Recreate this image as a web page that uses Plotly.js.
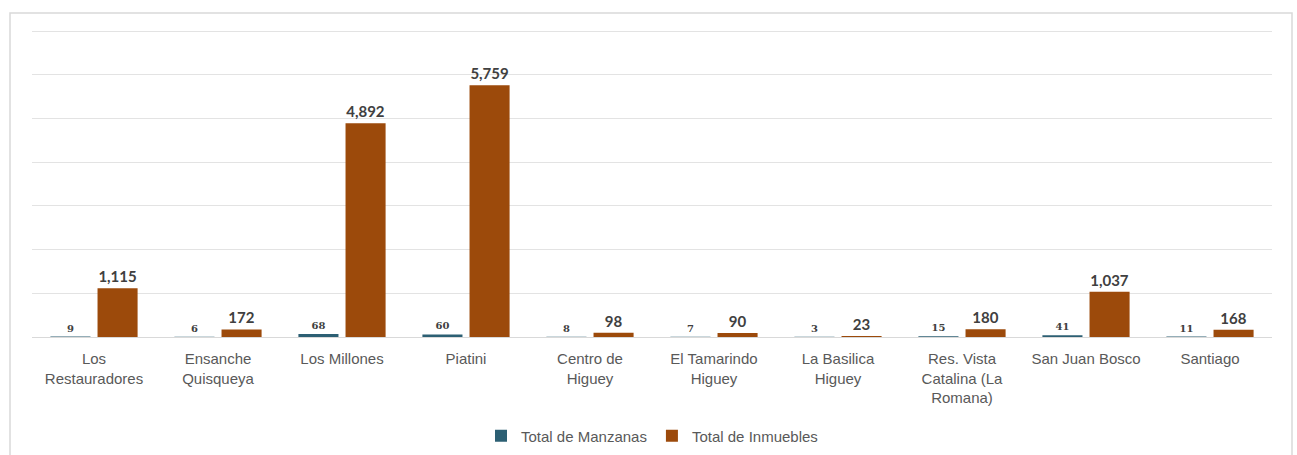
<!DOCTYPE html>
<html>
<head>
<meta charset="utf-8">
<script src="https://cdn.plot.ly/plotly-3.0.1.min.js"></script>
<style>
html,body{margin:0;padding:0;background:#fff;}
#chart{width:1297px;height:455px;}
</style>
</head>
<body>
<div id="chart"></div>
<script>
var categories = ["Los<br>Restauradores", "Ensanche<br>Quisqueya", "Los Millones", "Piatini", "Centro de<br>Higuey", "El Tamarindo<br>Higuey", "La Basilica<br>Higuey", "Res. Vista<br>Catalina (La<br>Romana)", "San Juan Bosco", "Santiago"];
var manzanas = [9, 6, 68, 60, 8, 7, 3, 15, 41, 11];
var inmuebles = [1115, 172, 4892, 5759, 98, 90, 23, 180, 1037, 168];
var yTicks = [0, 1000, 2000, 3000, 4000, 5000, 6000, 7000];

function fmt(v){ return v.toLocaleString('en-US'); }

var traces = [
  {
    type: 'bar', name: 'Total de Manzanas', x: categories, y: manzanas,
    marker: {color: '#2C5F73'},
    text: manzanas.map(fmt), textposition: 'outside', cliponaxis: false,
    textangle: 0, constraintext: 'none',
    textfont: {family: 'DejaVu Serif, serif', size: 10, color: '#404040', weight: 'bold'},
    hoverinfo: 'x+y'
  },
  {
    type: 'bar', name: 'Total de Inmuebles', x: categories, y: inmuebles,
    marker: {color: '#9C4A0B'},
    text: inmuebles.map(fmt), textposition: 'outside', cliponaxis: false,
    textangle: 0, constraintext: 'none',
    textfont: {family: 'Lato, Open Sans, sans-serif', size: 15, color: '#404040', weight: 'bold'},
    hoverinfo: 'x+y'
  }
];

var layout = {
  width: 1297, height: 455,
  margin: {l: 32, r: 25, t: 28, b: 118, pad: 0},
  paper_bgcolor: '#ffffff', plot_bgcolor: '#ffffff',
  barmode: 'group', bargap: 0.24, bargroupgap: 0.15,
  showlegend: true,
  legend: {orientation: 'h', x: 0.5, xanchor: 'center', xref: 'paper',
           y: (455 - 436) / 455, yanchor: 'middle', yref: 'container',
           font: {family: 'Liberation Sans, Arial, sans-serif', size: 15, color: '#595959'},
           traceorder: 'normal'},
  xaxis: {
    type: 'category', tickfont: {family: 'Liberation Sans, Arial, sans-serif', size: 15, color: '#595959'},
    showgrid: false, showline: true, linecolor: '#d9d9d9', linewidth: 1,
    ticks: '', automargin: false, tickangle: 0, ticklabelstandoff: 8
  },
  yaxis: {
    range: [0, 7070], tickvals: yTicks, showticklabels: false, automargin: false,
    showgrid: true, gridcolor: '#e3e3e3', gridwidth: 1, zeroline: false, ticks: ''
  },
  shapes: [
    {type: 'rect', xref: 'paper', yref: 'paper',
     x0: (10 - 32) / 1240, x1: (1292 - 32) / 1240,
     y0: (337 - 470) / 309, y1: (337 - 13) / 309,
     line: {color: '#d9d9d9', width: 1.5}, fillcolor: 'rgba(0,0,0,0)', layer: 'below'}
  ]
};

Plotly.newPlot('chart', traces, layout, {displayModeBar: false, staticPlot: true});
</script>
</body>
</html>
